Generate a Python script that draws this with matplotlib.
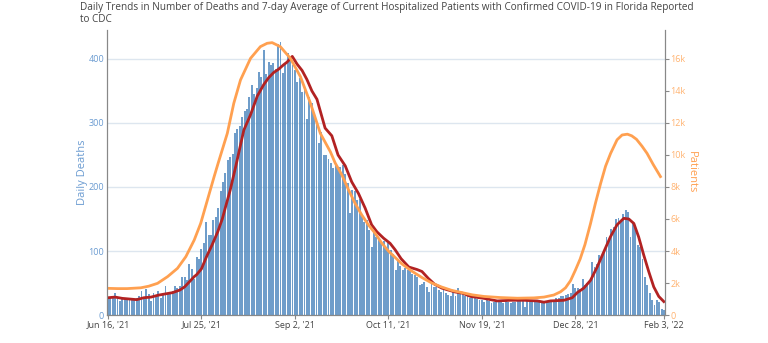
import matplotlib.pyplot as plt
import pandas as pd

plt.rcParams['font.family'] = ['Open Sans', 'DejaVu Sans']

start = pd.Timestamp("2021-06-16")

# daily deaths, one value per day from Jun 16 '21
daily_deaths = [
    25, 27, 28, 34, 27, 22, 26, 25, 24, 23,
    25, 23, 27, 30, 38, 28, 40, 33, 22, 34,
    30, 38, 27, 33, 45, 35, 36, 38, 45, 42,
    45, 60, 60, 55, 80, 72, 57, 90, 88, 103,
    113, 145, 125, 125, 148, 153, 167, 193, 208, 222,
    242, 247, 252, 284, 290, 295, 310, 318, 322, 341,
    359, 345, 354, 380, 372, 414, 377, 395, 390, 393,
    385, 424, 426, 378, 393, 409, 401, 390, 383, 364,
    370, 349, 354, 307, 341, 331, 312, 297, 268, 286,
    250, 250, 244, 237, 229, 234, 229, 232, 234, 221,
    206, 159, 195, 193, 180, 182, 154, 146, 149, 133,
    107, 128, 122, 120, 112, 115, 107, 112, 102, 96,
    70, 86, 76, 70, 73, 70, 68, 64, 62, 60,
    47, 49, 52, 44, 36, 52, 44, 44, 39, 36,
    44, 34, 31, 29, 36, 29, 42, 37, 34, 30,
    29, 27, 26, 29, 25, 24, 24, 21, 23, 22,
    18, 21, 22, 20, 21, 19, 22, 21, 18, 20,
    21, 23, 25, 28, 12, 24, 22, 23, 21, 22,
    20, 22, 21, 20, 22, 23, 24, 26, 27, 29,
    29, 31, 33, 35, 49, 42, 42, 40, 56, 47,
    50, 53, 83, 75, 80, 93, 92, 102, 122, 119,
    134, 138, 150, 151, 149, 158, 164, 161, 122, 143,
    137, 109, 107, 88, 60, 47, 34, 23, 16, 23,
    21, 9, 8,
]

# 7-day average of deaths (day offset, value)
avg_day = [0, 3, 6, 9, 12, 15, 18, 21, 24, 27, 30, 32, 34, 36, 37, 39, 41,
           43.5, 45.8, 47.7, 49, 51, 53.3, 56.7, 59.5, 62.3, 65, 67.1, 69.2,
           71.2, 73.3, 74.7, 76.9, 78.9, 81, 83, 85.1, 87.2, 90.6, 93.4, 96,
           99, 101.7, 104.5, 107.3, 110, 112.2, 115, 117.7, 119.8, 122.3,
           125.5, 129, 131, 133.7, 136.3, 139.3, 142, 144.8, 148, 151.3,
           156.9, 162.4, 168, 173.5, 179.1, 181.9, 184.6, 190.2, 193.7, 195.8,
           198.5, 201.3, 204.1, 206.9, 209.6, 212.4, 215.2, 217.3, 219.4,
           221.4, 223.5, 225.6, 227.7, 229.8, 231.9]
avg_deaths = [27, 28, 26, 25, 24, 27, 28, 31, 33, 35, 39, 44, 52, 60, 63, 72, 90,
              110, 130, 150, 168, 195, 232, 289, 313, 342, 360, 371, 379,
              384, 391, 395, 404, 392, 382, 368, 350, 337, 292, 280, 250,
              233, 208, 190, 167, 141, 130, 120, 112, 102, 88,
              75, 71, 68, 57, 48, 42, 39, 36, 34, 29,
              26, 22, 23, 23, 22, 20, 22, 23, 27, 35,
              42, 54, 75, 99, 122, 141, 151, 150, 143,
              122, 94, 68, 44, 29, 21]

# hospitalized patients (day offset, value)
patient_day = [0, 4, 8, 13.7, 17, 20.7, 24.9, 29, 32.5, 36, 38.7, 41.5, 44.3,
               46, 49.8, 52.5, 55.3, 59.5, 63.6, 66.4, 68.5, 71.9, 76.1, 80.3,
               84.5, 88.6, 92.8, 94.8, 97.6, 100.4, 103.1, 105.9, 108.7, 111.5,
               114.2, 117, 119.8, 122.6, 126.7, 130.9, 135.1, 139.2, 143.4,
               148.3, 152, 156.9, 163.8, 170.8, 177.7, 181.9, 186, 188.8, 190.9,
               193, 195, 197, 199, 201.3, 203.4, 205.5, 207.6, 209.7, 212.4,
               214.5, 216.7, 218.5, 220.5, 222.8, 224.9, 227.5, 230.5]
patients = [1667, 1650, 1650, 1700, 1800, 1980, 2400, 2917, 3646, 4687, 5729, 7187, 8646,
            9500, 11354, 13229, 14687, 16042, 16771, 16979, 17021, 16771, 16042, 14896,
            13229, 11354, 10200, 9500, 8750, 7812, 6979, 6250, 5625, 5104,
            4500, 4000, 3600, 3200, 2750, 2350, 2000, 1750, 1540,
            1380, 1260, 1160, 1090, 1050, 1070, 1120, 1250, 1450, 1700,
            2150, 2800, 3500, 4400, 5700, 7000, 8200, 9300, 10100, 10950,
            11250, 11300, 11200, 10980, 10550, 10104, 9400, 8650]

tick_dates = ["2021-06-16", "2021-07-25", "2021-09-02", "2021-10-11",
              "2021-11-19", "2021-12-28", "2022-02-03"]
tick_labels = ["Jun 16, '21", "Jul 25, '21", "Sep 2, '21", "Oct 11, '21",
               "Nov 19, '21", "Dec 28, '21", "Feb 3, '22"]
patient_ticks = [0, 2000, 4000, 6000, 8000, 10000, 12000, 14000, 16000]
patient_labels = ["0", "2k", "4k", "6k", "8k", "10k", "12k", "14k", "16k"]

fig = plt.figure(figsize=(7.68, 3.43), dpi=100)
ax = fig.add_axes([0.1393, 0.0816, 0.7266, 0.831])
ax2 = ax.twinx()

days = list(range(len(daily_deaths)))
ax.bar(days, daily_deaths, width=0.8, color='#4f88bf', alpha=0.82, zorder=2)
ax.plot(avg_day, avg_deaths, color='#b22222', lw=2.0, zorder=3)
ax2.plot(patient_day, patients, color='#ffa050', lw=2.0)

ax.set_xlim(-0.4, 232.4)
ax.set_ylim(0, 445.3)
ax2.set_ylim(0, 17812)

ax.set_yticks([0, 100, 200, 300, 400])
ax.yaxis.grid(True, color='#dde6ef', lw=1, zorder=0)
ax.set_axisbelow(True)
ax.tick_params(axis='y', length=0, pad=2, labelsize=6.5, labelcolor='#6a9bd1')
ax.set_ylabel('Daily Deaths', color='#6a9bd1', fontsize=8)
ax.yaxis.set_label_coords(-0.034, 0.5)

tick_pos = [(pd.Timestamp(t) - start).days for t in tick_dates]
ax.set_xticks(tick_pos)
ax.set_xticklabels(tick_labels)
ax.tick_params(axis='x', length=3, pad=1, labelsize=6.5, labelcolor='#444444', color='#888888')

ax2.set_yticks(patient_ticks)
ax2.set_yticklabels(patient_labels)
ax2.tick_params(axis='y', length=3, pad=1, labelsize=6.5, labelcolor='#ffb370', color='#888888')
ax2.set_ylabel('Patients', color='#ffa050', fontsize=8, rotation=270, va='center')
ax2.yaxis.set_label_coords(1.047, 0.5)

for a in (ax, ax2):
    a.spines['top'].set_visible(False)
    for s in ('left', 'right', 'bottom'):
        a.spines[s].set_color('#888888')
        a.spines[s].set_linewidth(0.8)

fig.text(0.104, 0.995,
         "Daily Trends in Number of Deaths and 7-day Average of Current Hospitalized Patients "
         "with Confirmed COVID-19 in Florida Reported\nto CDC",
         ha='left', va='top', fontsize=7.2, color='#444444', linespacing=1.1)

fig.savefig('out.png', dpi=100)
